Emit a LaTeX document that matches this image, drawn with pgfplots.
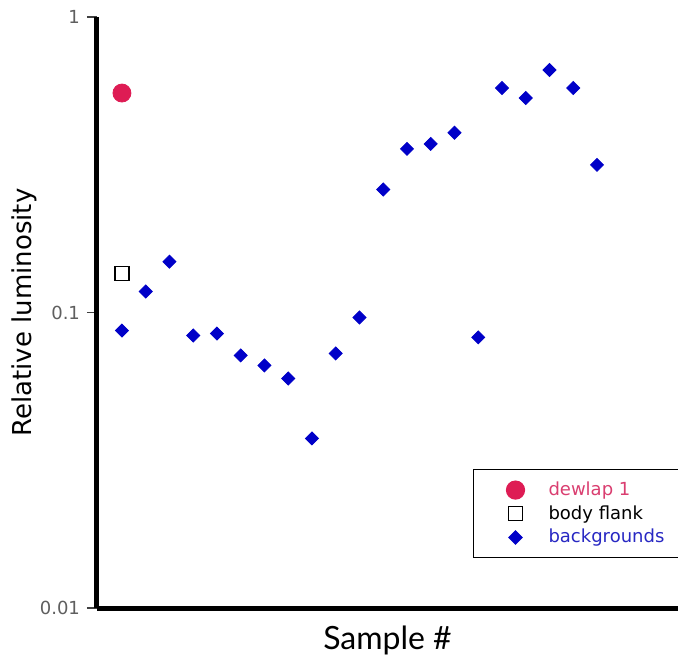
\documentclass[border=0pt]{standalone}
\usepackage{fontspec}
\setmainfont{DejaVu Sans}
\newfontfamily\latofont{Lato}
\usepackage{pgfplots}
\pgfplotsset{compat=1.18}
\usetikzlibrary{calc}

\definecolor{dewlapred}{RGB}{222,28,84}
\definecolor{dewlaptext}{RGB}{218,62,112}
\definecolor{bgblue}{RGB}{0,0,200}
\definecolor{bgtext}{RGB}{40,40,195}
\definecolor{ticktext}{RGB}{95,95,95}

\begin{document}
\begin{tikzpicture}
\begin{axis}[
  name=ax,
  scale only axis,
  width=290.5pt, height=295.5pt,
  xmin=-0.05, xmax=24.41,
  ymode=log, ymin=0.01, ymax=1,
  axis lines=left,
  axis line style={-, line width=2.5pt, black},
  xtick=\empty,
  ytick={0.01,0.1,1},
  yticklabels={0.01,0.1,1},
  yminorticks=false,
  tick align=outside,
  major tick length=5pt,
  y tick style={line width=0.8pt, black!75},
  /pgf/number format/assume math mode=true,
  y tick label style={font=\fontsize{9}{10}\selectfont, text=ticktext},
  xlabel={Sample \#},
  ylabel={Relative luminosity},
  every axis x label/.style={at={(rel axis cs:0.5,0)}, anchor=center, yshift=-16pt,
    font=\latofont\fontsize{16}{18}\selectfont},
  every axis y label/.style={at={(rel axis cs:0,0.5)}, anchor=center, xshift=-36.5pt,
    rotate=90, font=\fontsize{13}{15}\selectfont},
  legend style={at={(rel axis cs:0.647,0.235)}, anchor=north west,
    draw=black, line width=0.6pt, inner xsep=16.5pt, inner ysep=4pt,
    font=\fontsize{9}{10}\selectfont, column sep=10pt, row sep=-0.5pt},
  legend cell align=left,
  clip=false,
]
% dewlap 1
\addplot[only marks, mark=*, mark size=4.5pt, color=dewlapred] coordinates {(1,0.553)};
\addlegendentry{\textcolor{dewlaptext}{dewlap 1}}
% body flank
\addplot[only marks, mark=square*, mark size=3.5pt, draw=black, fill=white, line width=0.6pt,
  mark options={fill=white, draw=black}] coordinates {(1,0.1354)};
\addlegendentry{body flank}
% backgrounds
\addplot[only marks, mark=square*, mark size=2.3pt, color=bgblue,
  mark options={rotate=45}] table[row sep=\\] {
x y\\
1 0.0869\\
2 0.1178\\
3 0.1486\\
4 0.0836\\
5 0.0849\\
6 0.0716\\
7 0.0662\\
8 0.0598\\
9 0.0375\\
10 0.0727\\
11 0.0962\\
12 0.2607\\
13 0.358\\
14 0.372\\
15 0.406\\
16 0.0824\\
17 0.575\\
18 0.532\\
19 0.662\\
20 0.575\\
21 0.316\\
};
\addlegendentry{\textcolor{bgtext}{backgrounds}}
\end{axis}
\pgfresetboundingbox
\path[use as bounding box] ($(ax.south west)+(-48.5pt,-26.5pt)$) rectangle ($(ax.north east)+(0pt,8.5pt)$);
\end{tikzpicture}
\end{document}
